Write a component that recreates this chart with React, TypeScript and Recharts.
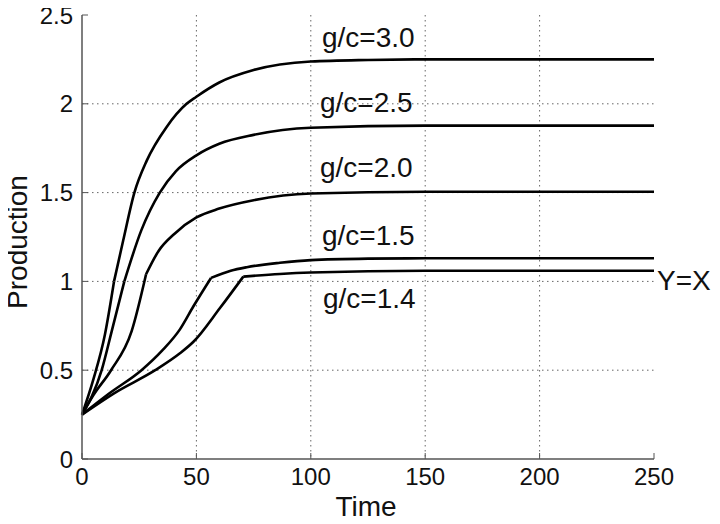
import React from 'react';
import { LineChart, Line, XAxis, YAxis, CartesianGrid } from 'recharts';

// values; each curve is split at its corner
const time30a = [0, 5, 10, 14];
const prod30a = [0.25, 0.45, 0.7, 1.0];
const time30b = [14, 18, 22.9, 28.3, 37, 45.7, 50, 60, 75, 100, 125, 150, 250];
const prod30b = [1.0, 1.23, 1.5, 1.68, 1.87, 2.0, 2.04, 2.12, 2.19, 2.238, 2.247, 2.25, 2.25];

const time25a = [0, 8.6, 13, 18.5];
const prod25a = [0.25, 0.5, 0.72, 1.0];
const time25b = [18.5, 26, 34, 41, 50, 60, 75, 100, 150, 250];
const prod25b = [1.0, 1.29, 1.5, 1.62, 1.71, 1.775, 1.825, 1.865, 1.877, 1.877];

const time20a = [0, 5, 12.7, 21.7, 28];
const prod20a = [0.25, 0.36, 0.5, 0.72, 1.04];
const time20b = [28, 33.4, 40.6, 50, 60, 75, 100, 150, 250];
const prod20b = [1.04, 1.17, 1.27, 1.36, 1.41, 1.457, 1.495, 1.505, 1.505];

const time15a = [0, 12, 26, 35, 42.8, 48.7, 56.4];
const prod15a = [0.25, 0.37, 0.5, 0.61, 0.73, 0.86, 1.02];
const time15b = [56.4, 65, 72, 86.5, 100, 125, 150, 250];
const prod15b = [1.02, 1.06, 1.08, 1.105, 1.12, 1.128, 1.13, 1.13];

const time14a = [0, 14, 32, 42.8, 48.7, 60.3, 70.5];
const prod14a = [0.25, 0.37, 0.5, 0.595, 0.66, 0.85, 1.027];
const time14b = [70.5, 86.5, 100, 150, 250];
const prod14b = [1.027, 1.042, 1.05, 1.06, 1.06];

const xTicks = [0, 50, 100, 150, 200, 250];
const yTicks = [0, 0.5, 1, 1.5, 2, 2.5];

const seriesLabels = ['g/c=3.0', 'g/c=2.5', 'g/c=2.0', 'g/c=1.5', 'g/c=1.4'];

const toPoints = (xs: number[], ys: number[]) => xs.map((x, i) => ({ x, y: ys[i] }));

const FONT = '"Liberation Sans", Arial, Helvetica, sans-serif';
const AXIS = '#555';

const BottomTick = ({ x, y, payload }: any) => (
  <g>
    <line x1={x} x2={x} y1={y} y2={y - 6} stroke={AXIS} />
    <text x={x} y={y + 9} dy="0.71em" textAnchor="middle" fontSize={24} fontFamily={FONT} fill="#111">
      {payload.value}
    </text>
  </g>
);

const LeftTick = ({ x, y, payload }: any) => (
  <g>
    <line x1={x} x2={x + 6} y1={y} y2={y} stroke={AXIS} />
    <text x={x - 9} y={y} dy="0.355em" textAnchor="end" fontSize={24} fontFamily={FONT} fill="#111">
      {payload.value}
    </text>
  </g>
);

const TopTick = ({ x, y }: any) => <line x1={x} x2={x} y1={y} y2={y + 6} stroke={AXIS} />;
const RightTick = ({ x, y }: any) => <line x1={x} x2={x - 6} y1={y} y2={y} stroke={AXIS} />;

const labelStyle = { fontSize: 28, fontFamily: FONT, fill: '#111' };

export default function App() {
  const series = [
    { key: '30a', data: toPoints(time30a, prod30a) },
    { key: '30b', data: toPoints(time30b, prod30b) },
    { key: '25a', data: toPoints(time25a, prod25a) },
    { key: '25b', data: toPoints(time25b, prod25b) },
    { key: '20a', data: toPoints(time20a, prod20a) },
    { key: '20b', data: toPoints(time20b, prod20b) },
    { key: '15a', data: toPoints(time15a, prod15a) },
    { key: '15b', data: toPoints(time15b, prod15b) },
    { key: '14a', data: toPoints(time14a, prod14a) },
    { key: '14b', data: toPoints(time14b, prod14b) },
  ];

  return (
    <div style={{ margin: -8, width: 720, height: 524 }}>
      <LineChart width={720} height={524} margin={{ top: 15, right: 66, bottom: 25, left: 0 }}>
        <CartesianGrid
          stroke="#666"
          strokeDasharray="1.5 3.5"
          horizontalValues={[0.5, 1, 1.5, 2]}
          verticalValues={[50, 100, 150, 200]}
        />
        <XAxis
          dataKey="x"
          type="number"
          domain={[0, 250]}
          ticks={xTicks}
          height={40}
          tickSize={0}
          tickMargin={0}
          tickLine={false}
          tick={<BottomTick />}
          axisLine={{ stroke: AXIS, strokeWidth: 1.5 }}
          allowDuplicatedCategory={false}
        />
        <XAxis
          xAxisId="top"
          orientation="top"
          dataKey="x"
          type="number"
          domain={[0, 250]}
          ticks={xTicks}
          height={0}
          tickSize={0}
          tickMargin={0}
          tickLine={false}
          tick={<TopTick />}
          axisLine={{ stroke: AXIS, strokeWidth: 1.5 }}
        />
        <YAxis
          type="number"
          domain={[0, 2.5]}
          ticks={yTicks}
          width={82}
          tickSize={0}
          tickMargin={0}
          tickLine={false}
          tick={<LeftTick />}
          axisLine={{ stroke: AXIS, strokeWidth: 1.5 }}
        />
        <YAxis
          yAxisId="right"
          orientation="right"
          type="number"
          domain={[0, 2.5]}
          ticks={yTicks}
          width={0}
          tickSize={0}
          tickMargin={0}
          tickLine={false}
          tick={<RightTick />}
          axisLine={{ stroke: AXIS, strokeWidth: 1.5 }}
        />
        {series.map((s) => (
          <Line
            key={s.key}
            data={s.data}
            dataKey="y"
            type="monotone"
            stroke="#000"
            strokeWidth={2.6}
            dot={false}
            activeDot={false}
            isAnimationActive={false}
          />
        ))}
        <text x={322} y={47} {...labelStyle}>{seriesLabels[0]}</text>
        <text x={320} y={112} {...labelStyle}>{seriesLabels[1]}</text>
        <text x={320} y={177} {...labelStyle}>{seriesLabels[2]}</text>
        <text x={322} y={245} {...labelStyle}>{seriesLabels[3]}</text>
        <text x={323} y={308} {...labelStyle}>{seriesLabels[4]}</text>
        <text x={657} y={290} {...labelStyle}>Y=X</text>
        <text x={366} y={516} textAnchor="middle" {...labelStyle}>Time</text>
        <text x={27} y={242} textAnchor="middle" transform="rotate(-90 27 242)" {...labelStyle}>
          Production
        </text>
      </LineChart>
    </div>
  );
}
